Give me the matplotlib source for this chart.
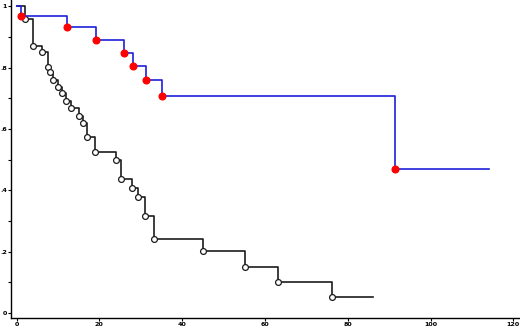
import matplotlib
matplotlib.use("Agg")
import matplotlib.pyplot as plt
import numpy as np

# group 1 (blue line, red event dots)
blue_times = [1.0, 12.1, 19.2, 26.0, 28.1, 31.3, 35.2, 91.3]
blue_surv = [0.967, 0.933, 0.889, 0.846, 0.805, 0.761, 0.706, 0.471]
blue_end = 114.2

# group 2 (black line, open circles)
black_times = [2.0, 4.0, 6.1, 7.5, 8.1, 8.9, 10.1, 10.9, 12.0, 13.1, 15.1, 16.0,
               17.1, 18.9, 24.0, 25.2, 27.8, 29.3, 31.0, 33.2, 45.1, 55.2, 63.1, 76.3]
black_surv = [0.957, 0.870, 0.849, 0.803, 0.786, 0.761, 0.735, 0.718, 0.691, 0.667,
              0.642, 0.618, 0.573, 0.525, 0.498, 0.436, 0.409, 0.379, 0.316, 0.243,
              0.203, 0.150, 0.102, 0.052]
black_end = 86.1

x_ticks = [0, 20, 40, 60, 80, 100, 120]
y_ticks = [0, 0.2, 0.4, 0.6, 0.8, 1.0]
y_labels = ["0", ".2", ".4", ".6", ".8", "1"]


def km_steps(times, surv, end):
    t = [0] + list(times) + [end]
    s = [1.0] + list(surv) + [surv[-1]]
    return t, s


fig = plt.figure(figsize=(5.2, 3.32), dpi=100)
ax = fig.add_axes([11 / 520, 14 / 332, 509 / 520, 318 / 332])

t, s = km_steps(black_times, black_surv, black_end)
ax.step(t, s, where="post", color="#1c1c1c", lw=1.2, zorder=2)
ax.plot(black_times, black_surv, "o", mfc="white", mec="#1c1c1c", mew=0.9, ms=4.2, zorder=3)

t, s = km_steps(blue_times, blue_surv, blue_end)
ax.step(t, s, where="post", color="#1f1fd8", lw=1.2, zorder=4)
ax.plot(blue_times, blue_surv, "o", color="#ff0000", ms=4.8, zorder=5)

ax.set_xlim(-1.35, 121.6)
ax.set_ylim(-0.016, 1.02)
ax.set_xticks(x_ticks)
ax.set_xticklabels([str(v) for v in x_ticks])
ax.set_yticks(y_ticks)
ax.set_yticklabels(y_labels)
ax.set_yticks(np.arange(0.1, 1.0, 0.2), minor=True)

for side in ["top", "right"]:
    ax.spines[side].set_visible(False)
ax.spines["left"].set_linewidth(1.0)
ax.spines["bottom"].set_linewidth(1.0)

ax.tick_params(axis="both", which="major", length=2, width=0.8, labelsize=4.6, pad=1)
ax.tick_params(axis="y", which="minor", length=2, width=0.8)
for lab in ax.get_xticklabels() + ax.get_yticklabels():
    lab.set_fontweight("bold")

fig.savefig("out.png", dpi=100)
